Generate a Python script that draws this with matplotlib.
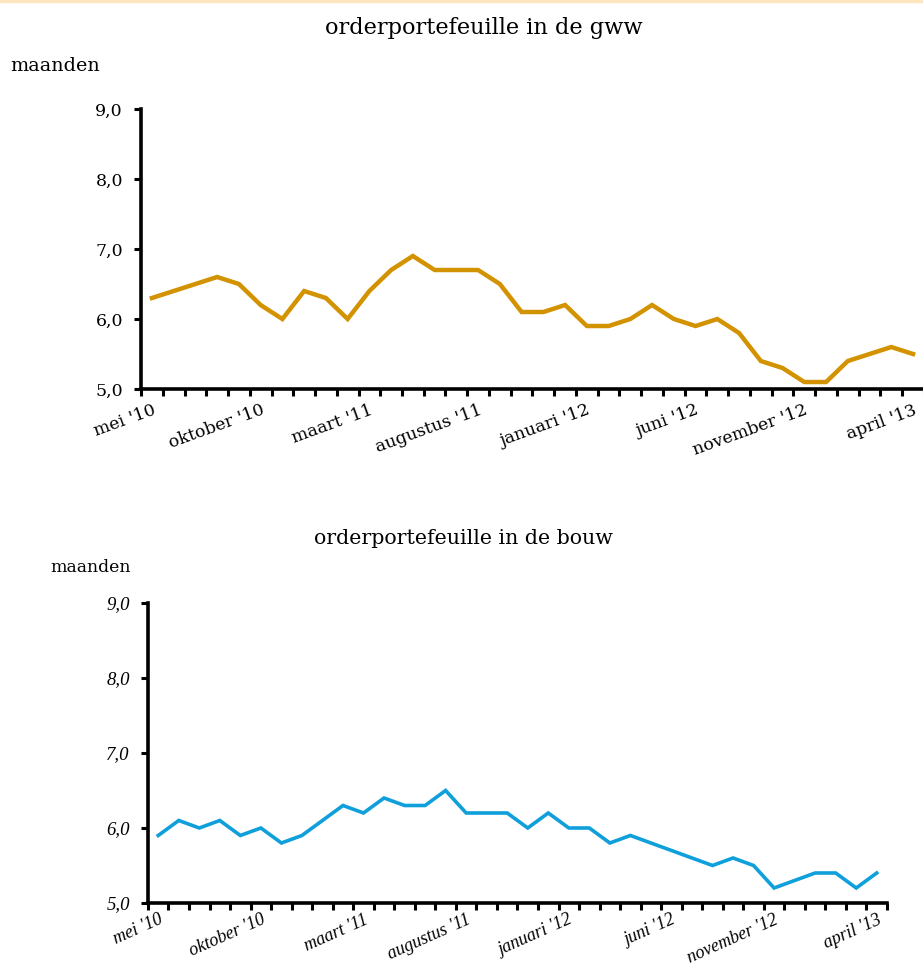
import matplotlib
matplotlib.use("Agg")
import matplotlib.pyplot as plt
from matplotlib.ticker import FuncFormatter

months = ["mei '10", "juni '10", "juli '10", "augustus '10", "september '10", "oktober '10",
          "november '10", "december '10", "januari '11", "februari '11", "maart '11", "april '11",
          "mei '11", "juni '11", "juli '11", "augustus '11", "september '11", "oktober '11",
          "november '11", "december '11", "januari '12", "februari '12", "maart '12", "april '12",
          "mei '12", "juni '12", "juli '12", "augustus '12", "september '12", "oktober '12",
          "november '12", "december '12", "januari '13", "februari '13", "maart '13", "april '13"]

gww = [6.3, 6.4, 6.5, 6.6, 6.5, 6.2, 6.0, 6.4, 6.3, 6.0, 6.4, 6.7, 6.9, 6.7, 6.7, 6.7, 6.5, 6.1,
       6.1, 6.2, 5.9, 5.9, 6.0, 6.2, 6.0, 5.9, 6.0, 5.8, 5.4, 5.3, 5.1, 5.1, 5.4, 5.5, 5.6, 5.5]

bouw = [5.9, 6.1, 6.0, 6.1, 5.9, 6.0, 5.8, 5.9, 6.1, 6.3, 6.2, 6.4, 6.3, 6.3, 6.5, 6.2, 6.2, 6.2,
        6.0, 6.2, 6.0, 6.0, 5.8, 5.9, 5.8, 5.7, 5.6, 5.5, 5.6, 5.5, 5.2, 5.3, 5.4, 5.4, 5.2, 5.4]

title_top = "orderportefeuille in de gww"
title_bottom = "orderportefeuille in de bouw"
ylabel = "maanden"
label_step = 5
yticks = [5, 6, 7, 8, 9]

SERIF = ["DejaVu Serif", "Liberation Serif"]
NARROW = ["Liberation Serif", "DejaVu Serif"]

fig = plt.figure(figsize=(9.23, 9.67), dpi=100)
fig.patch.set_facecolor("white")

# faint peach line along the top edge
fig.add_artist(plt.Line2D([0, 1], [0.9985, 0.9985], color="#fde6c0", lw=2.5,
                          transform=fig.transFigure))

def style_axes(ax, values, color, lw, fs, yfs, family, italic, rot, pad):
    n = len(values)
    x = list(range(n))
    ax.plot(x, values, color=color, lw=lw, solid_joinstyle="miter", clip_on=False)
    ax.set_xlim(-0.5, n - 0.5)
    ax.set_ylim(5, 9)
    for s in ["top", "right"]:
        ax.spines[s].set_visible(False)
    for s in ["left", "bottom"]:
        ax.spines[s].set_linewidth(2.6)
        ax.spines[s].set_color("black")
    ax.set_xticks([i - 0.5 for i in range(n + 1)], minor=True)
    ax.set_xticks(x[::label_step])
    ax.set_xticklabels(months[::label_step], rotation=rot, ha="right",
                       rotation_mode="anchor", fontsize=fs, family=family,
                       style="italic" if italic else "normal")
    ax.tick_params(axis="x", which="major", length=0, pad=pad)
    ax.tick_params(axis="x", which="minor", length=5, width=2.2, direction="out")
    ax.set_yticks(yticks)
    ax.yaxis.set_major_formatter(FuncFormatter(lambda v, p: f"{v:.1f}".replace(".", ",")))
    ax.tick_params(axis="y", length=5, width=2.2, direction="out", pad=8)
    for lab in ax.get_yticklabels():
        lab.set_family(family)
        lab.set_fontsize(yfs)
        if italic:
            lab.set_style("italic")

ax1 = fig.add_axes([0.1528, 0.5977, 0.8482, 0.2896])
style_axes(ax1, gww, "#D39200", 3.2, 12.5, 12.5, SERIF, False, 20, 9)

ax2 = fig.add_axes([0.1603, 0.0662, 0.8007, 0.3102])
style_axes(ax2, bouw, "#0FA0DB", 2.6, 13, 13.5, NARROW, True, 24, 6)

fig.text(484 / 923, 1 - 28 / 967, title_top, ha="center", va="center",
         fontsize=16.2, family=SERIF)
fig.text(463 / 923, 1 - 538 / 967, title_bottom, ha="center", va="center",
         fontsize=14.8, family=SERIF)
fig.text(10 / 923, 1 - 66 / 967, ylabel, ha="left", va="center",
         fontsize=13.8, family=SERIF)
fig.text(50 / 923, 1 - 568 / 967, ylabel, ha="left", va="center",
         fontsize=12.4, family=SERIF)

fig.savefig("out.png", dpi=100, facecolor="white")
